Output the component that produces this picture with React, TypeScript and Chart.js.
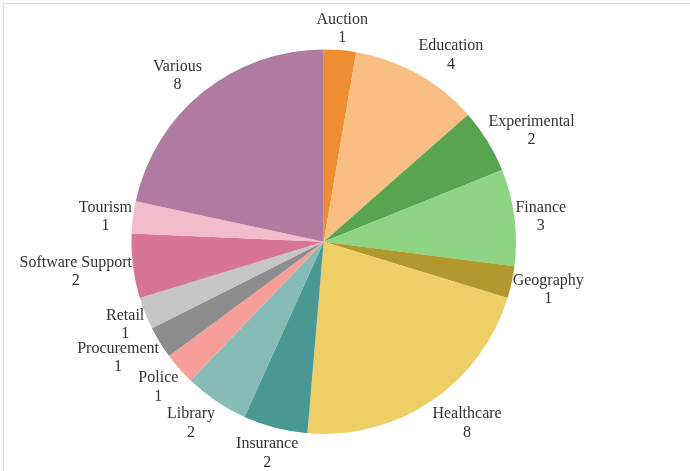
import React, { useEffect, useRef } from "react";
import { Chart, registerables } from "chart.js";

Chart.register(...registerables);

const categories = [
  "Auction",
  "Education",
  "Experimental",
  "Finance",
  "Geography",
  "Healthcare",
  "Insurance",
  "Library",
  "Police",
  "Procurement",
  "Retail",
  "Software Support",
  "Tourism",
  "Various",
];

const counts = [1, 4, 2, 3, 1, 8, 2, 2, 1, 1, 1, 2, 1, 8];

const sliceColors = [
  "#f08c32",
  "#f9be82",
  "#58a44f",
  "#8ed483",
  "#b2992e",
  "#eecf66",
  "#4a9894",
  "#87bcb6",
  "#f79e9a",
  "#8c8c8c",
  "#c5c6c5",
  "#d77596",
  "#f2bccb",
  "#af7ba0",
];

const FONT_FAMILY = '"Liberation Serif", "DejaVu Serif", serif';
const FONT = "16px " + FONT_FAMILY;
const LINE = 18.5;

const outsideLabels = {
  id: "outsideLabels",
  afterDatasetsDraw(chart: any) {
    const ctx = chart.ctx as CanvasRenderingContext2D;
    const meta = chart.getDatasetMeta(0);
    ctx.save();
    ctx.font = FONT;
    ctx.fillStyle = "#333333";
    ctx.textBaseline = "middle";
    ctx.textAlign = "center";
    meta.data.forEach((arc: any, i: number) => {
      const p = arc.getProps(["x", "y", "startAngle", "endAngle", "outerRadius"], true);
      const mid = (p.startAngle + p.endAngle) / 2;
      const ux = Math.cos(mid);
      const uy = Math.sin(mid);
      const ex = p.x + p.outerRadius * ux;
      const ey = p.y + p.outerRadius * uy;
      const l1 = categories[i];
      const l2 = String(counts[i]);
      const w = Math.max(ctx.measureText(l1).width, ctx.measureText(l2).width);
      const f = Math.abs(ux) < 0.35 ? Math.abs(ux) : 1;
      const cx = ex + Math.sign(ux) * f * (w / 2 + 1);
      const cy = ey + uy * 24 + 2.5;
      ctx.fillText(l1, cx, cy - LINE / 2);
      ctx.fillText(l2, cx, cy + LINE / 2);
    });
    ctx.restore();
  },
};

export default function App() {
  const ref = useRef<HTMLCanvasElement | null>(null);

  useEffect(() => {
    if (!ref.current) return;
    const chart = new Chart(ref.current, {
      type: "pie",
      data: {
        labels: categories,
        datasets: [
          {
            data: counts,
            backgroundColor: sliceColors,
            borderWidth: 0,
          },
        ],
      },
      options: {
        responsive: false,
        animation: false,
        layout: {
          padding: { left: 131.4, right: 174, top: 49.4, bottom: 37 },
        },
        plugins: {
          legend: { display: false },
          tooltip: { enabled: false },
        },
      },
      plugins: [outsideLabels],
    });
    return () => chart.destroy();
  }, []);

  return (
    <div
      style={{
        position: "fixed",
        left: 0,
        top: 0,
        width: 690,
        height: 471,
        background: "#ffffff",
        overflow: "hidden",
      }}
    >
      <div
        style={{
          position: "absolute",
          left: 3,
          top: 3,
          width: 720,
          height: 520,
          border: "1px solid #dddddd",
        }}
      />
      <canvas
        ref={ref}
        width={690}
        height={471}
        style={{ position: "absolute", left: 0, top: 0, width: 690, height: 471 }}
      />
    </div>
  );
}
